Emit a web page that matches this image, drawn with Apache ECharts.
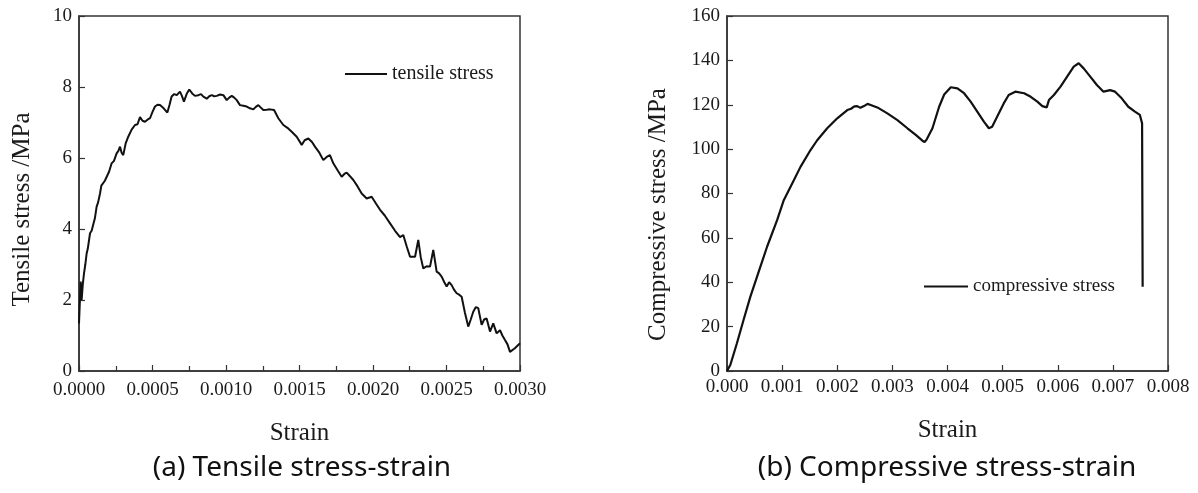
<!DOCTYPE html>
<html>
<head>
<meta charset="utf-8">
<script src="https://cdn.jsdelivr.net/npm/echarts@6/dist/echarts.min.js"></script>
<style>
html,body{margin:0;padding:0;background:#fff;}
#chart{width:1198px;height:493px;}
</style>
</head>
<body>
<div id="chart"></div>
<script>
// ---- data ----
const tensileStrain = [0,0.0000113,0.000018,0.000026,0.000034,0.000043,0.000052,0.000060,0.000075,0.000086,0.000097,0.000108,0.00012,0.00013,0.000143,0.000152,0.000165,0.000176,0.000188,0.000205,0.000222,0.000238,0.000256,0.000268,0.000279,0.000290,0.000301,0.000318,0.000335,0.000358,0.000381,0.000398,0.000415,0.000432,0.000449,0.000466,0.000483,0.000500,0.000517,0.000534,0.000551,0.000576,0.000601,0.000616,0.00063,0.000648,0.000665,0.000687,0.000700,0.000714,0.000732,0.00075,0.000770,0.000789,0.000812,0.000830,0.000846,0.000869,0.000886,0.000903,0.000920,0.000937,0.000960,0.000982,0.001005,0.001022,0.001039,0.001056,0.001073,0.001095,0.001118,0.001141,0.001163,0.001186,0.001203,0.00122,0.001237,0.001254,0.001277,0.001299,0.001327,0.001356,0.00139,0.001418,0.001447,0.001481,0.001515,0.001535,0.00156,0.001585,0.001605,0.001635,0.001662,0.001685,0.001707,0.00173,0.001760,0.001787,0.001805,0.001821,0.001845,0.001866,0.001895,0.001923,0.001957,0.001991,0.002020,0.002048,0.002080,0.002116,0.002150,0.002184,0.002206,0.002230,0.002252,0.002286,0.002308,0.002325,0.002342,0.002365,0.002388,0.00241,0.002433,0.002450,0.002467,0.002485,0.002501,0.002518,0.002535,0.002550,0.002569,0.002586,0.002603,0.002625,0.002648,0.002665,0.002682,0.002700,0.002716,0.002739,0.002756,0.002773,0.002796,0.002818,0.002841,0.002864,0.002880,0.002898,0.002915,0.002932,0.002965,0.003];
const tensileStress = [1.34,2.52,2.0,2.45,2.75,3.0,3.31,3.45,3.88,3.95,3.97,4.3,4.63,4.75,5.0,5.22,5.2,5.36,5.38,5.62,5.85,5.92,6.13,6.2,6.32,6.15,6.08,6.42,6.6,6.8,6.93,6.95,7.15,7.05,7.02,7.08,7.12,7.3,7.45,7.5,7.49,7.4,7.28,7.5,7.73,7.8,7.77,7.87,7.75,7.59,7.8,7.93,7.82,7.75,7.77,7.8,7.73,7.67,7.74,7.77,7.74,7.75,7.79,7.77,7.63,7.7,7.75,7.7,7.63,7.49,7.47,7.45,7.4,7.37,7.44,7.49,7.42,7.35,7.36,7.37,7.35,7.12,6.93,6.85,6.74,6.6,6.37,6.5,6.55,6.45,6.32,6.15,5.94,6.03,6.08,5.85,5.65,5.47,5.55,5.59,5.48,5.38,5.2,5.0,4.86,4.91,4.72,4.54,4.38,4.16,3.95,3.77,3.83,3.5,3.22,3.22,3.69,3.2,2.89,2.95,2.94,3.41,2.80,2.75,2.66,2.5,2.38,2.5,2.42,2.3,2.19,2.15,2.09,1.65,1.25,1.45,1.67,1.8,1.77,1.30,1.45,1.48,1.11,1.34,1.06,1.15,1.0,0.87,0.75,0.54,0.64,0.78];

const compStrain = [0,0.00006,0.00018,0.0003,0.000424,0.000606,0.000727,0.000909,0.00103,0.001212,0.001333,0.001515,0.001636,0.001818,0.002,0.002182,0.00225,0.00231,0.002364,0.00242,0.002485,0.00255,0.002606,0.002727,0.002909,0.003091,0.003273,0.003424,0.003545,0.003585,0.003624,0.003727,0.003848,0.00394,0.00406,0.00418,0.0043,0.00442,0.00454,0.00466,0.00475,0.00481,0.0049,0.00502,0.00511,0.00523,0.00539,0.00551,0.00563,0.00572,0.0058,0.00584,0.00593,0.00605,0.00617,0.00629,0.00638,0.00647,0.00659,0.00671,0.00683,0.00695,0.00704,0.00716,0.00728,0.0074,0.00749,0.00753,0.00754];
const compStress = [0,2.7,12.5,23,33.5,47,56,68,77,86,92,99.6,104,109.4,113.9,117.6,118.2,119.3,119.4,118.6,119.4,120.4,119.9,118.8,116.1,113.1,109.4,106.4,103.8,103.2,104.4,109.4,119.1,124.6,127.9,127.4,125.2,121.4,116.9,112.4,109.4,110.1,114.6,120.6,124.4,125.9,125.2,123.6,121.4,119.4,118.8,122.1,124.4,128.2,132.7,137.2,138.7,136.4,132.7,128.9,125.9,126.6,125.9,122.9,119.1,116.9,115.4,111.6,38];

const tensileXTicks = {min:0, max:0.003, interval:0.0005};
const tensileYTicks = {min:0, max:10, interval:2};
const compXTicks = {min:0, max:0.008, interval:0.001};
const compYTicks = {min:0, max:160, interval:20};

// ---- build ----
const zip = (a,b) => a.map((v,i)=>[v,b[i]]);
const serif = '"Liberation Serif","Times New Roman",serif';
const axisColor = '#333';
const txtColor = '#1a1a1a';

function xAxis(gi, t, decimals, margin, nameGap, minor){
  return {
    type:'value', gridIndex:gi, min:t.min, max:t.max, interval:t.interval,
    name:'Strain', nameLocation:'middle', nameGap:nameGap,
    nameTextStyle:{fontFamily:serif, fontSize:25, color:txtColor},
    axisLine:{show:true, onZero:false, lineStyle:{color:axisColor, width:1.5}},
    axisTick:{show:true, inside:true, length:6, lineStyle:{color:axisColor, width:1.2}},
    minorTick:{show:minor, splitNumber:2, length:5, lineStyle:{color:axisColor, width:1.2}},
    axisLabel:{fontFamily:serif, fontSize:19, color:txtColor, margin:margin,
      formatter:v=>v.toFixed(decimals)},
    splitLine:{show:false}
  };
}
function yAxis(gi, t, name, nameGap, pad){
  return {
    type:'value', gridIndex:gi, min:t.min, max:t.max, interval:t.interval,
    name:name, nameLocation:'middle', nameGap:nameGap,
    nameTextStyle:{fontFamily:serif, fontSize:25, color:txtColor, padding:[0,pad,0,0]},
    axisLine:{show:true, onZero:false, lineStyle:{color:axisColor, width:1.5}},
    axisTick:{show:true, inside:true, length:6, lineStyle:{color:axisColor, width:1.2}},
    axisLabel:{fontFamily:serif, fontSize:19, color:txtColor, margin:7},
    splitLine:{show:false}
  };
}

const chart = echarts.init(document.getElementById('chart'), null, {renderer:'canvas'});
chart.setOption({
  animation:false,
  backgroundColor:'#fff',
  title:[
    {text:'(a) Tensile stress-strain', left:302, top:454, textAlign:'center', padding:0,
     textStyle:{fontFamily:'"Noto Sans",sans-serif', fontSize:28, fontWeight:'normal', color:'#111'}},
    {text:'(b) Compressive stress-strain', left:947, top:454, textAlign:'center', padding:0,
     textStyle:{fontFamily:'"Noto Sans",sans-serif', fontSize:28, fontWeight:'normal', color:'#111'}}
  ],
  grid:[
    {left:79, top:16, width:441, height:355, show:true, borderColor:axisColor, borderWidth:1.5, backgroundColor:'transparent', containLabel:false},
    {left:727, top:16, width:441, height:355, show:true, borderColor:axisColor, borderWidth:1.5, backgroundColor:'transparent', containLabel:false}
  ],
  legend:[
    {data:['tensile stress'], left:345, top:64, padding:0, icon:'rect', itemWidth:42, itemHeight:2,
     textStyle:{fontFamily:serif, fontSize:20, color:txtColor}},
    {data:['compressive stress'], left:924, top:277, padding:0, icon:'rect', itemWidth:44, itemHeight:2,
     textStyle:{fontFamily:serif, fontSize:19, color:txtColor}}
  ],
  xAxis:[
    xAxis(0, tensileXTicks, 4, 10, 50, true),
    xAxis(1, compXTicks, 3, 7, 47, false)
  ],
  yAxis:[
    yAxis(0, tensileYTicks, 'Tensile stress /MPa', 44, 32),
    yAxis(1, compYTicks, 'Compressive stress /MPa', 56, 42)
  ],
  series:[
    {name:'tensile stress', type:'line', xAxisIndex:0, yAxisIndex:0, showSymbol:false, symbol:'none',
     lineStyle:{color:'#111', width:2}, itemStyle:{color:'#111'}, data:zip(tensileStrain, tensileStress)},
    {name:'compressive stress', type:'line', xAxisIndex:1, yAxisIndex:1, showSymbol:false, symbol:'none',
     lineStyle:{color:'#111', width:2.2}, itemStyle:{color:'#111'}, data:zip(compStrain, compStress)}
  ]
});
</script>
</body>
</html>
